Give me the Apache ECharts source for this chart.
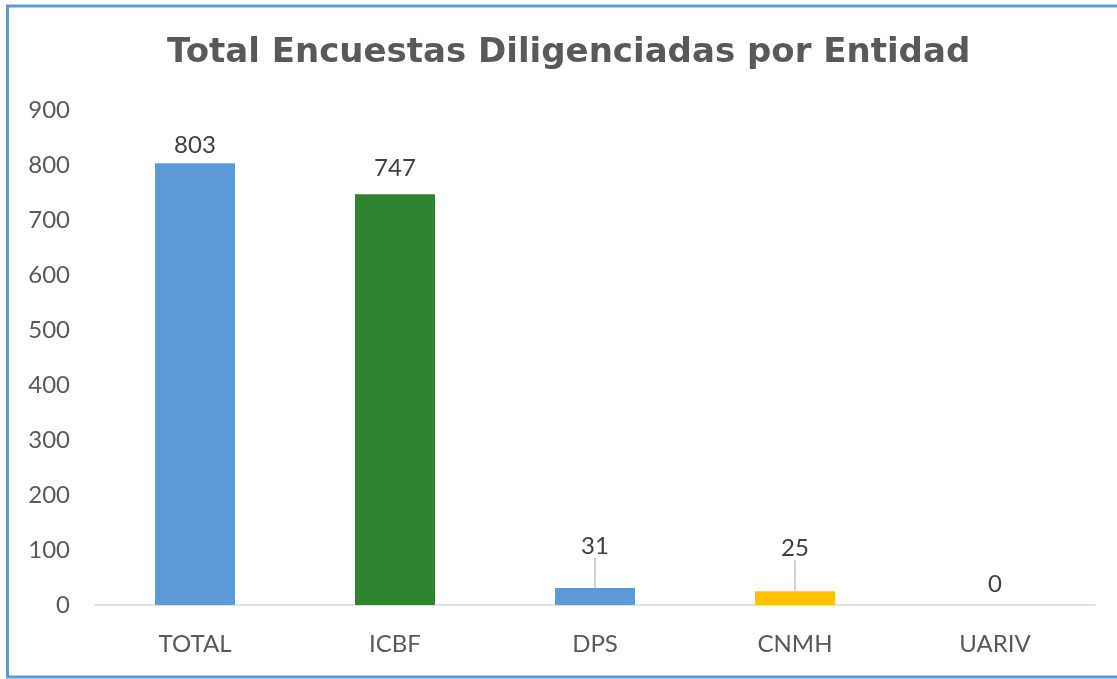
<!DOCTYPE html>
<html>
<head>
<meta charset="utf-8">
<script src="https://cdn.jsdelivr.net/npm/echarts@6/dist/echarts.min.js"></script>
<style>
html,body{margin:0;padding:0;background:#fff;}
#chart{width:1117px;height:679px;}
</style>
</head>
<body>
<div id="chart"></div>
<script>
const titleText = 'Total Encuestas Diligenciadas por Entidad';
const categories = ['TOTAL', 'ICBF', 'DPS', 'CNMH', 'UARIV'];
const values = [803, 747, 31, 25, 0];
const barColors = ['#5B9BD5', '#31842F', '#5B9BD5', '#FFC000', '#A5A5A5'];

const labelDy = [0, -8, -24, -25, -3];
const labelLines = [false, false, true, true, false];

const chart = echarts.init(document.getElementById('chart'), null, {renderer: 'canvas'});
const FONT = 'Lato, "Open Sans", sans-serif';

chart.setOption({
  animation: false,
  backgroundColor: '#ffffff',
  title: {
    text: titleText,
    left: 162,
    top: 31,
    textStyle: {fontFamily: '"DejaVu Sans", Verdana, sans-serif', fontSize: 34, fontWeight: 'bold', color: '#595959'}
  },
  graphic: [{
    type: 'rect',
    shape: {x: 7.5, y: 6, width: 1200, height: 671},
    style: {fill: 'none', stroke: '#5B9BD5', lineWidth: 3},
    silent: true,
    z: 100
  }],
  grid: {left: 95, right: 22, top: 110, bottom: 74, containLabel: false},
  xAxis: {
    type: 'category',
    data: categories,
    axisLine: {show: true, lineStyle: {color: '#D9D9D9', width: 1.5}},
    axisTick: {show: false},
    axisLabel: {fontFamily: FONT, fontSize: 24, color: '#595959', margin: 27}
  },
  yAxis: {
    type: 'value',
    min: 0,
    max: 900,
    interval: 100,
    splitLine: {show: false},
    axisLine: {show: false},
    axisTick: {show: false},
    axisLabel: {fontFamily: FONT, fontSize: 24, color: '#595959', margin: 25}
  },
  series: [{
    type: 'bar',
    barWidth: 80,
    data: values.map((v, i) => ({
      value: v,
      itemStyle: {color: barColors[i]},
      labelLine: {show: labelLines[i]}
    })),
    label: {
      show: true,
      position: 'top',
      distance: 6,
      fontFamily: FONT,
      fontSize: 24,
      color: '#404040'
    },
    labelLine: {show: false, lineStyle: {color: '#A6A6A6', width: 1}},
    labelLayout: function (params) {
      return {dy: labelDy[params.dataIndex]};
    }
  }]
});
</script>
</body>
</html>
